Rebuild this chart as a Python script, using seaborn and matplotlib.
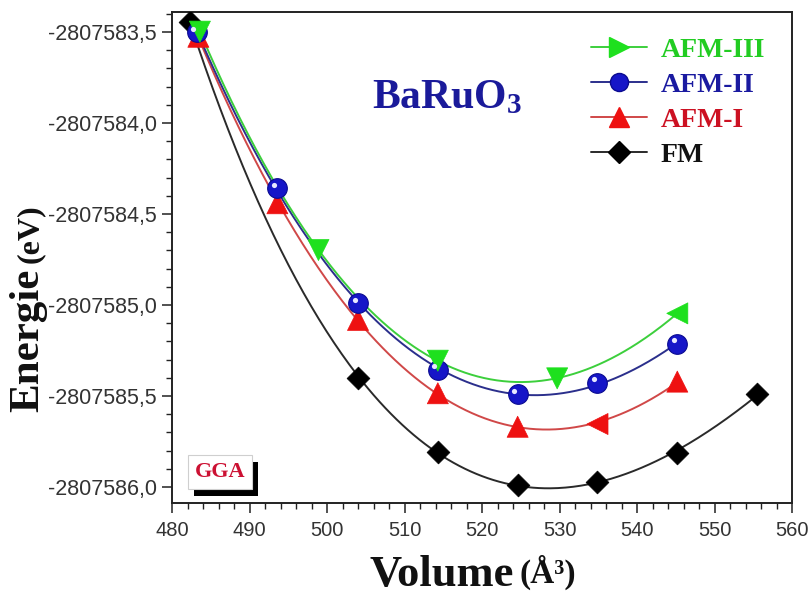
import numpy as np
import pandas as pd
import seaborn as sns
import matplotlib
matplotlib.use("Agg")
import matplotlib.pyplot as plt
from matplotlib.lines import Line2D
from matplotlib.ticker import FuncFormatter, MultipleLocator
from matplotlib.transforms import ScaledTranslation
import matplotlib.patheffects as pe

# Cell volume (Å^3) and total energy (eV) for each magnetic configuration of BaRuO3
fm_vol = [482.3, 504.0, 514.3, 524.6, 534.9, 545.2, 555.5]
fm_energy = [-2807583.443, -2807585.400, -2807585.806, -2807585.989,
             -2807585.971, -2807585.812, -2807585.490]

afm1_vol = [483.4, 493.6, 504.0, 514.3, 524.6, 534.9, 545.2]
afm1_energy = [-2807583.526, -2807584.441, -2807585.082, -2807585.485,
               -2807585.669, -2807585.654, -2807585.421]

afm2_vol = [483.2, 493.6, 504.0, 514.3, 524.6, 534.9, 545.2]
afm2_energy = [-2807583.500, -2807584.359, -2807584.990, -2807585.357,
               -2807585.489, -2807585.427, -2807585.214]

afm3_vol = [483.6, 498.9, 514.3, 529.7, 545.2]
afm3_energy = [-2807583.498, -2807584.698, -2807585.306, -2807585.403,
               -2807585.046]

series_labels = ["AFM-III", "AFM-II", "AFM-I", "FM"]
x_ticks_major = 10
y_ticks_major = 0.5

# marker shape of each point
afm1_shapes = ["^", "^", "^", "^", "^", "<", "^"]
afm3_shapes = ["v", "v", "v", "v", "<"]

sns.set_theme(style="ticks")
plt.rcParams["font.family"] = ["Liberation Sans", "DejaVu Sans"]
plt.rcParams["mathtext.fontset"] = "custom"
plt.rcParams["mathtext.bf"] = "Liberation Serif:bold"
plt.rcParams["mathtext.rm"] = "Liberation Serif:bold"

fig = plt.figure(figsize=(8.11, 5.96), dpi=100)
ax = fig.add_axes([172 / 811, 1 - 503 / 596, 620 / 811, 491 / 596])

E_REF = -2807585.0


def bm_fit(vol, energy, n=300):
    """Third-order Birch-Murnaghan style fit: E as a cubic in V^(-2/3)."""
    v = np.asarray(vol, float)
    e = np.asarray(energy, float) - E_REF
    x = (v / 520.0) ** (-2.0 / 3.0) - 1.0
    coef = np.polyfit(x, e, 3)
    vg = np.linspace(v.min(), v.max(), n)
    xg = (vg / 520.0) ** (-2.0 / 3.0) - 1.0
    return vg, np.polyval(coef, xg) + E_REF


serif_bold = {"family": ["Liberation Serif", "DejaVu Serif"], "weight": "bold"}

green_line, green_mk = "#3ccf3c", "#1ee01e"
blue_line, blue_mk = "#2b2f8c", "#1616c8"
red_line, red_mk = "#d04848", "#ee1111"
black_line, black_mk = "#2a2a2a", "#000000"

# fitted curves
for vol, en, lc in [(fm_vol, fm_energy, black_line),
                    (afm1_vol, afm1_energy, red_line),
                    (afm2_vol, afm2_energy, blue_line),
                    (afm3_vol, afm3_energy, green_line)]:
    vg, eg = bm_fit(vol, en)
    sns.lineplot(x=vg, y=eg, color=lc, linewidth=1.4, sort=False,
                 estimator=None, ax=ax, zorder=2)

# data points
sns.scatterplot(x=fm_vol, y=fm_energy, marker="D", s=135, color=black_mk,
                edgecolor=black_mk, linewidth=0.5, ax=ax, zorder=4, legend=False)
sns.scatterplot(x=afm1_vol, y=afm1_energy, style=afm1_shapes,
                markers={"^": "^", "<": "<"}, s=230, color=red_mk,
                edgecolor=red_mk, linewidth=0.5, ax=ax, zorder=4, legend=False)
sns.scatterplot(x=afm2_vol, y=afm2_energy, marker="o", s=200, color=blue_mk,
                edgecolor="#0a0a90", linewidth=0.8, ax=ax, zorder=4, legend=False)
# specular highlight on the blue spheres
hl = ax.transData + ScaledTranslation(-2.5 / 72, 2.5 / 72, fig.dpi_scale_trans)
ax.scatter(afm2_vol, afm2_energy, marker="o", s=14, color="#e8e8ff",
           linewidths=0, transform=hl, zorder=5)
sns.scatterplot(x=afm3_vol, y=afm3_energy, style=afm3_shapes,
                markers={"v": "v", "<": "<"}, s=230, color=green_mk,
                edgecolor=green_mk, linewidth=0.5, ax=ax, zorder=4, legend=False)

# axes ranges and ticks
ax.set_xlim(480, 560)
ax.set_ylim(-2807586.088, -2807583.390)
ax.xaxis.set_major_locator(MultipleLocator(x_ticks_major))
ax.xaxis.set_minor_locator(MultipleLocator(2))
ax.yaxis.set_major_locator(MultipleLocator(y_ticks_major))
ax.yaxis.set_minor_locator(MultipleLocator(0.1))
ax.yaxis.set_major_formatter(FuncFormatter(lambda v, p: f"{v:.1f}".replace(".", ",")))
ax.xaxis.set_major_formatter(FuncFormatter(lambda v, p: f"{v:.0f}"))
ax.tick_params(axis="both", which="major", direction="out", length=7,
               width=1.1, color="#222222", labelcolor="#333333")
ax.tick_params(axis="both", which="minor", direction="out", length=4,
               width=1.0, color="#222222")
ax.tick_params(axis="x", labelsize=14.5, pad=6)
ax.tick_params(axis="y", labelsize=15.5, pad=4)
for sp in ax.spines.values():
    sp.set_visible(True)
    sp.set_linewidth(1.4)
    sp.set_color("#222222")
ax.set_xlabel("")
ax.set_ylabel("")

# axis titles
vt = fig.text(370 / 811, 1 - 575 / 596, "Volume", fontsize=32, color="#111111",
              ha="left", va="center", fontdict=serif_bold)
ax.annotate("(Å³)", xy=(1.0, 0.12), xycoords=vt, xytext=(4, 0),
            textcoords="offset points", fontsize=24, color="#111111",
            ha="left", va="bottom", **serif_bold)
et = fig.text(28 / 811, 1 - 412 / 596, "Energie", fontsize=31, color="#111111",
              rotation=90, ha="center", va="bottom", fontdict=serif_bold)
ax.annotate("(eV)", xy=(0.55, 1.0), xycoords=et, xytext=(0, 4),
            textcoords="offset points", fontsize=23, color="#111111",
            rotation=90, ha="center", va="bottom", **serif_bold)

# compound name
ax.text(0.4435, 0.827, r"$\mathbf{BaRuO_3}$", transform=ax.transAxes,
        fontsize=30, color="#1a1a9a", ha="center", va="center")

# functional tag with drop shadow
gga = ax.text(0.078, 0.063, "GGA", transform=ax.transAxes, fontsize=16,
              color="#cc1133", ha="center", va="center", zorder=6,
              bbox=dict(boxstyle="square,pad=0.3", facecolor="white",
                        edgecolor="#cfcfcf", linewidth=0.8), **serif_bold)
gga.get_bbox_patch().set_path_effects([
    pe.SimplePatchShadow(offset=(4, -5), shadow_rgbFace="black", alpha=1.0),
    pe.Normal()])

# legend
handles = [
    Line2D([], [], color=green_line, lw=1.4, marker=">", markersize=15,
           mfc=green_mk, mec=green_mk),
    Line2D([], [], color=blue_line, lw=1.4, marker="o", markersize=13,
           mfc=blue_mk, mec="#0a0a90"),
    Line2D([], [], color=red_line, lw=1.4, marker="^", markersize=15,
           mfc=red_mk, mec=red_mk),
    Line2D([], [], color=black_line, lw=1.4, marker="D", markersize=11,
           mfc=black_mk, mec=black_mk),
]
leg = ax.legend(handles, series_labels, loc="upper left",
                bbox_to_anchor=((580 - 172) / 620, (503 - 26) / 491),
                frameon=False, handlelength=2.0, handletextpad=0.5,
                labelspacing=0.35, borderaxespad=0,
                prop={"family": ["Liberation Serif"], "weight": "bold", "size": 20})
for txt, c in zip(leg.get_texts(), ["#22cc22", "#1a1aa0", "#cc1122", "#111111"]):
    txt.set_color(c)

fig.savefig("out.png", dpi=100)
